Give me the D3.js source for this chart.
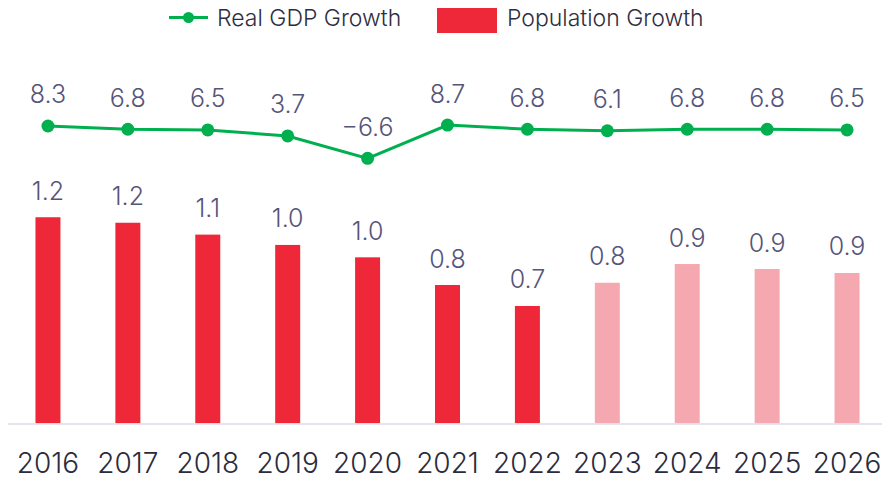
<!DOCTYPE html>
<meta charset="utf-8">
<style>
body { margin: 0; background: #fff; }
svg { display: block; }
text { font-family: Inter, "Noto Sans", sans-serif; font-weight: 300; }
.val { fill: #55557a; font-size: 25px; }
.year { fill: #2b2b3b; font-size: 28px; }
.legend text { fill: #2e2e40; font-size: 23px; }
</style>
<svg width="882" height="478"></svg>
<script src="https://cdn.jsdelivr.net/npm/d3@7"></script>
<script>

var years = ["2016","2017","2018","2019","2020","2021","2022","2023","2024","2025","2026"];
var gdpGrowth = [8.3, 6.8, 6.5, 3.7, -6.6, 8.7, 6.8, 6.1, 6.8, 6.8, 6.5];
var popGrowth = [1.198, 1.166, 1.097, 1.037, 0.965, 0.804, 0.682, 0.817, 0.926, 0.897, 0.874];
var forecast = [false, false, false, false, false, false, false, true, true, true, true];

var svg = d3.select("svg");

var x = d3.scalePoint()
    .domain(years)
    .range([8, 887])
    .padding(0.5);

var yBar = d3.scaleLinear()
    .domain([0, 1.4])
    .range([423.3, 423.3 - 1.4 * 172]);

var yLine = d3.scaleLinear()
    .domain([-10, 10])
    .range([165.7, 122.3]);

var rows = years.map(function(y, i) {
  return { year: y, gdp: gdpGrowth[i], pop: popGrowth[i], fc: forecast[i] };
});

// bars
svg.append("g").selectAll("rect")
    .data(rows)
  .enter().append("rect")
    .attr("x", function(d) { return x(d.year) - 12.5; })
    .attr("width", 25)
    .attr("y", function(d) { return yBar(d.pop); })
    .attr("height", function(d) { return yBar(0) - yBar(d.pop); })
    .attr("fill", function(d) { return d.fc ? "#f6a8b0" : "#ee2838"; });

svg.append("g").selectAll("text")
    .data(rows)
  .enter().append("text")
    .attr("class", "val")
    .attr("text-anchor", "middle")
    .attr("x", function(d) { return x(d.year); })
    .attr("y", function(d) { return yBar(d.pop) - 17.5; })
    .text(function(d) { return d3.format(".1f")(d.pop); });

// axis line + year labels
svg.append("line")
    .attr("x1", 8).attr("x2", 882)
    .attr("y1", 424).attr("y2", 424)
    .attr("stroke", "#dcdce8")
    .attr("stroke-width", 1.6);

svg.append("g").selectAll("text")
    .data(years)
  .enter().append("text")
    .attr("class", "year")
    .attr("text-anchor", "middle")
    .attr("x", function(d) { return x(d); })
    .attr("y", 472.5)
    .text(function(d) { return d; });

// gdp line
var line = d3.line()
    .x(function(d) { return x(d.year); })
    .y(function(d) { return yLine(d.gdp); });

svg.append("path")
    .datum(rows)
    .attr("d", line)
    .attr("fill", "none")
    .attr("stroke", "#00b04f")
    .attr("stroke-width", 3);

svg.append("g").selectAll("circle")
    .data(rows)
  .enter().append("circle")
    .attr("cx", function(d) { return x(d.year); })
    .attr("cy", function(d) { return yLine(d.gdp); })
    .attr("r", 6.5)
    .attr("fill", "#00b04f");

svg.append("g").selectAll("text")
    .data(rows)
  .enter().append("text")
    .attr("class", "val")
    .attr("text-anchor", "middle")
    .attr("x", function(d) { return x(d.year); })
    .attr("y", function(d) { return yLine(d.gdp) - 22.5; })
    .text(function(d) { return d3.format(".1f")(d.gdp).replace("-", "\u2212"); });

// legend
var legend = svg.append("g").attr("class", "legend");
legend.append("line")
    .attr("x1", 169).attr("x2", 208)
    .attr("y1", 17.5).attr("y2", 17.5)
    .attr("stroke", "#00b04f")
    .attr("stroke-width", 3);
legend.append("circle")
    .attr("cx", 188.5).attr("cy", 17.5).attr("r", 5.5)
    .attr("fill", "#00b04f");
legend.append("text")
    .attr("x", 217).attr("y", 26)
    .text("Real GDP Growth");
legend.append("rect")
    .attr("x", 437).attr("y", 8)
    .attr("width", 60).attr("height", 25)
    .attr("fill", "#ee2838");
legend.append("text")
    .attr("x", 507).attr("y", 26)
    .text("Population Growth");

</script>
